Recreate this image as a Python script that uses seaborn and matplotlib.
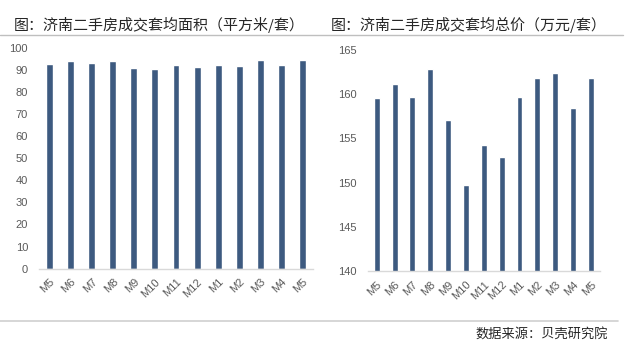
import matplotlib
matplotlib.use("Agg")
import matplotlib.pyplot as plt
import seaborn as sns
from matplotlib.lines import Line2D

# data
months = ['M5', 'M6', 'M7', 'M8', 'M9', 'M10', 'M11', 'M12', 'M1', 'M2', 'M3', 'M4', 'M5']
avg_area = [92.6, 94.0, 93.1, 93.8, 91.0, 90.5, 92.0, 91.3, 92.2, 91.9, 94.4, 92.2, 94.3]
avg_price = [159.6, 161.2, 159.7, 162.8, 157.1, 149.7, 154.3, 152.9, 159.7, 161.8, 162.4, 158.4, 161.8]

title_left = '图：济南二手房成交套均面积（平方米/套）'
title_right = '图：济南二手房成交套均总价（万元/套）'
source = '数据来源：贝壳研究院'

bar_color = '#3d5a80'
tick_color = '#595959'

sns.set_theme(style='white')
plt.rcParams['font.family'] = ['Noto Sans CJK SC', 'DejaVu Sans']

fig = plt.figure(figsize=(6.32, 3.64), dpi=100)
ax1 = fig.add_axes([0.062, 0.262, 0.433, 0.607])
ax2 = fig.add_axes([0.582, 0.2555, 0.367, 0.607])


def draw(ax, values, width, ylim, step):
    pos = list(range(len(values)))
    sns.barplot(x=pos, y=values, color=bar_color, width=width, saturation=1, ax=ax)
    ax.set_xlim(-0.5, len(values) - 0.5)
    ax.set_ylim(*ylim)
    ax.set_yticks(range(ylim[0], ylim[1] + 1, step))
    ax.set_xticks(pos)
    ax.set_xticklabels(months, rotation=45, ha='right', rotation_mode='anchor')
    for lab in ax.get_xticklabels() + ax.get_yticklabels():
        lab.set_family(['Liberation Sans', 'DejaVu Sans'])
        lab.set_fontsize(8)
        lab.set_color(tick_color)
    ax.tick_params(axis='both', length=0)
    ax.tick_params(axis='x', pad=6)
    ax.tick_params(axis='y', pad=8)
    for s in ['top', 'right', 'left']:
        ax.spines[s].set_visible(False)
    ax.spines['bottom'].set_color('#d9d9d9')
    ax.spines['bottom'].set_linewidth(1)
    ax.set_xlabel('')
    ax.set_ylabel('')


draw(ax1, avg_area, 0.33, (0, 100), 10)
draw(ax2, avg_price, 0.33, (140, 165), 5)

# titles and source
fig.text(0.022, 0.931, title_left, fontsize=10.8, color='#262626', va='center')
fig.text(0.524, 0.931, title_right, fontsize=10.8, color='#262626', va='center')
fig.text(0.962, 0.079, source, fontsize=9.5, color='#262626', va='center', ha='right')

# separator lines
fig.add_artist(Line2D([0.0, 0.986], [0.903, 0.903], color='#bfbfbf', lw=1))
fig.add_artist(Line2D([0.0, 0.978], [0.118, 0.118], color='#d0d0d0', lw=1.2))

fig.savefig('out.png', dpi=100)
